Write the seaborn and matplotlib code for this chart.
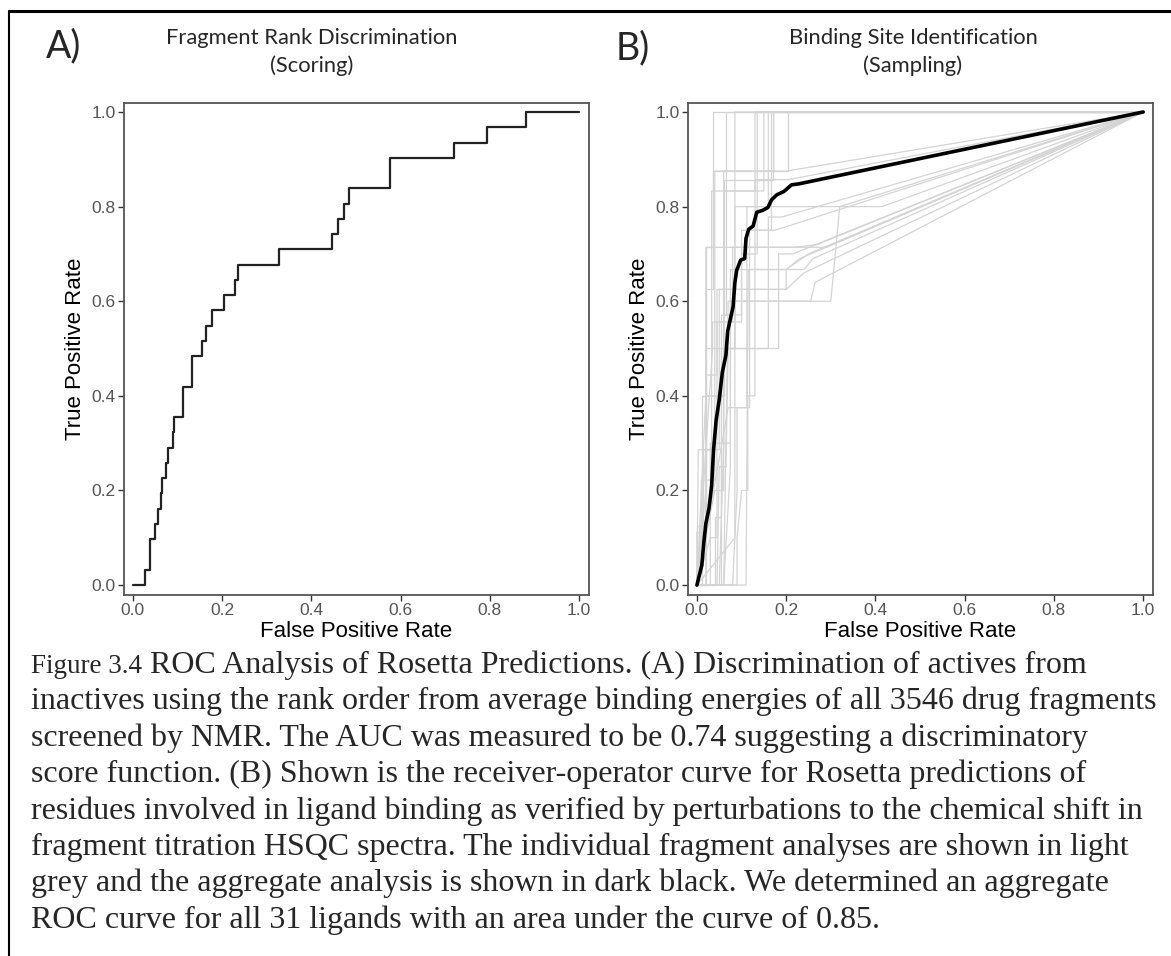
import matplotlib
matplotlib.use("Agg")
import matplotlib.pyplot as plt
import seaborn as sns
import pandas as pd
from matplotlib.lines import Line2D

# ---------------- data ----------------
# Panel A: fragment rank ROC (step vertices, steps-post)
fpr_a = [0.0, 0.026, 0.039, 0.049, 0.056, 0.062, 0.066, 0.075, 0.079, 0.089, 0.093,
         0.112, 0.133, 0.155, 0.163, 0.177, 0.203, 0.228, 0.236, 0.327, 0.446, 0.459,
         0.472, 0.485, 0.577, 0.719, 0.794, 0.881, 1.0]
tpr_a = [0.0, 0.032, 0.097, 0.129, 0.161, 0.194, 0.226, 0.258, 0.290, 0.323, 0.355,
         0.419, 0.484, 0.516, 0.548, 0.581, 0.613, 0.645, 0.677, 0.710, 0.742, 0.774,
         0.806, 0.839, 0.903, 0.935, 0.968, 1.0, 1.0]

# Panel B: aggregate ROC (black)
fpr_agg = [0.0, 0.011, 0.015, 0.020, 0.027, 0.033, 0.037, 0.043, 0.050, 0.057, 0.065,
           0.069, 0.076, 0.081, 0.085, 0.089, 0.098, 0.107, 0.110, 0.116, 0.126, 0.134,
           0.147, 0.159, 0.167, 0.179, 0.195, 0.212, 0.228, 1.0]
tpr_agg = [0.0, 0.042, 0.086, 0.130, 0.162, 0.210, 0.283, 0.348, 0.392, 0.450, 0.486,
           0.537, 0.567, 0.588, 0.639, 0.665, 0.687, 0.690, 0.733, 0.752, 0.759, 0.788,
           0.792, 0.798, 0.814, 0.825, 0.832, 0.846, 0.848, 1.0]

# Panel B: individual fragment ROCs (light grey)
grey_fpr = [
    [0, 0.02, 0.02, 0.035, 0.035, 1],
    [0, 0, 0.02, 0.02, 0.035, 0.035, 0.205, 0.205, 1],
    [0, 0.003, 0.033, 0.033, 0.13, 0.13, 1],
    [0, 0.04, 0.04, 0.053, 0.053, 0.065, 0.065, 1],
    [0, 0.045, 0.05, 0.065, 0.07, 0.085, 0.085, 1],
    [0, 0.06, 0.07, 0.30, 0.32, 1],
    [0, 0.09, 0.09, 0.10, 0.114, 0.114, 0.13, 0.13, 0.205, 1],
    [0, 0.07, 0.118, 0.118, 0.175, 1],
    [0, 0.02, 0.02, 0.183, 0.183, 0.215, 1],
    [0, 0.02, 0.02, 0.29, 1],
    [0, 0.085, 0.085, 0.415, 1],
    [0, 0.11, 0.115, 0.20, 0.25, 1],
    [0, 0.04, 0.06, 0.06, 0.15, 0.15, 1],
    [0, 0.035, 0.035, 0.10, 0.10, 0.167, 0.167, 1],
    [0, 0.02, 0.06, 0.06, 0.172, 0.172, 1],
    [0, 0.01, 0.01, 0.04, 0.04, 0.20, 1],
    [0, 0.03, 0.03, 0.075, 0.075, 0.24, 0.26, 1],
    [0, 0.055, 0.055, 0.16, 0.16, 0.19, 1],
    [0, 0.015, 0.015, 0.05, 0.05, 0.20, 0.24, 1],
    [0, 0.0, 0.02, 0.02, 0.045, 0.045, 0.20, 0.20, 0.23, 1],
    [0, 0.05, 0.06, 0.06, 0.10, 0.10, 0.135, 0.135, 1],
    [0, 0.08, 0.09, 0.09, 0.112, 0.112, 0.16, 0.16, 1],
    [0, 0.03, 0.045, 0.045, 0.08, 0.08, 0.22, 0.27, 1],
    [0, 0.06, 0.075, 0.075, 0.085, 0.085, 0.255, 0.265, 1],
    [0, 0.012, 0.012, 0.06, 0.06, 0.17, 0.17, 1],
]
grey_tpr = [
    [0, 0, 0.714, 0.714, 1, 1],
    [0, 0.125, 0.125, 0.625, 0.625, 0.875, 0.875, 1, 1],
    [0, 0.286, 0.286, 0.833, 0.833, 1, 1],
    [0, 0, 0.143, 0.143, 0.571, 0.571, 1, 1],
    [0, 0, 0.25, 0.25, 0.5, 0.5, 1, 1],
    [0, 0, 0.6, 0.6, 0.8, 1],
    [0, 0, 0.1, 0.2, 0.2, 0.4, 0.4, 0.857, 0.857, 1],
    [0, 0.375, 0.375, 0.75, 0.75, 1],
    [0, 0, 0.5, 0.5, 0.70, 0.70, 1],
    [0, 0.2, 0.714, 0.714, 1],
    [0, 0.1, 0.8, 0.8, 1],
    [0, 0, 0.667, 0.667, 0.70, 1],
    [0, 0.2, 0.2, 0.833, 0.833, 1, 1],
    [0, 0.5, 0.556, 0.556, 0.75, 0.75, 1, 1],
    [0, 0.4, 0.4, 0.875, 0.875, 1, 1],
    [0, 0.111, 0.222, 0.222, 0.875, 0.875, 1],
    [0, 0, 0.3, 0.3, 0.667, 0.667, 0.69, 1],
    [0, 0, 0.5, 0.5, 0.778, 0.778, 1],
    [0, 0.143, 0.286, 0.286, 0.625, 0.625, 0.66, 1],
    [0, 0.111, 0.111, 0.444, 0.444, 0.625, 0.625, 0.667, 0.69, 1],
    [0, 0, 0.3, 0.571, 0.571, 0.70, 0.70, 1.0, 1],
    [0, 0, 0.2, 0.375, 0.375, 0.80, 0.80, 1.0, 1],
    [0, 0.1, 0.1, 0.556, 0.556, 0.714, 0.714, 0.72, 1],
    [0, 0, 0.25, 0.5, 0.5, 0.6, 0.6, 0.64, 1],
    [0, 0, 0.4, 0.4, 0.857, 0.857, 1, 1],
]

tick_vals = [0.0, 0.2, 0.4, 0.6, 0.8, 1.0]
tick_labels = ["0.0", "0.2", "0.4", "0.6", "0.8", "1.0"]

title_a = ["Fragment Rank Discrimination", "(Scoring)"]
title_b = ["Binding Site Identification", "(Sampling)"]
xlabel = "False Positive Rate"
ylabel = "True Positive Rate"

caption_head = "Figure 3.4"
caption_lines = [
    " ROC Analysis of Rosetta Predictions. (A) Discrimination of actives from",
    "inactives using the rank order from average binding energies of all 3546 drug fragments",
    "screened by NMR. The AUC was measured to be 0.74 suggesting a discriminatory",
    "score function. (B) Shown is the receiver-operator curve for Rosetta predictions of",
    "residues involved in ligand binding as verified by perturbations to the chemical shift in",
    "fragment titration HSQC spectra. The individual fragment analyses are shown in light",
    "grey and the aggregate analysis is shown in dark black. We determined an aggregate",
    "ROC curve for all 31 ligands with an area under the curve of 0.85.",
]

# ---------------- figure ----------------
sns.set_theme(style="white")
plt.rcParams["font.family"] = ["Liberation Sans", "DejaVu Sans"]

W, H = 1171, 956
fig = plt.figure(figsize=(W / 100, H / 100), dpi=100)
fig.patch.set_facecolor("white")

def fx(px):
    return px / W

def fy(py):
    return 1 - py / H

ax_a = fig.add_axes([fx(124), fy(595), fx(589) - fx(124), fy(103) - fy(595)])
ax_b = fig.add_axes([fx(688), fy(595), fx(1153) - fx(688), fy(103) - fy(595)])

df_a = pd.DataFrame({"fpr": fpr_a, "tpr": tpr_a})
sns.lineplot(data=df_a, x="fpr", y="tpr", ax=ax_a, sort=False, estimator=None,
             color="#222222", linewidth=1.6, drawstyle="steps-post")

rows = []
for i, (xs, ys) in enumerate(zip(grey_fpr, grey_tpr)):
    for x, y in zip(xs, ys):
        rows.append({"curve": i, "fpr": x, "tpr": y})
df_g = pd.DataFrame(rows)
sns.lineplot(data=df_g, x="fpr", y="tpr", units="curve", estimator=None, sort=False,
             ax=ax_b, color="#d4d4d4", linewidth=0.9)
df_agg = pd.DataFrame({"fpr": fpr_agg, "tpr": tpr_agg})
sns.lineplot(data=df_agg, x="fpr", y="tpr", ax=ax_b, sort=False, estimator=None,
             color="black", linewidth=2.6)

for ax in (ax_a, ax_b):
    ax.set_xlim(-0.02, 1.022)
    ax.set_ylim(-0.021, 1.019)
    ax.set_xticks(tick_vals)
    ax.set_xticklabels(tick_labels)
    ax.set_yticks(tick_vals)
    ax.set_yticklabels(tick_labels)
    ax.tick_params(axis="both", which="both", length=4, width=1, color="#333333",
                   labelcolor="#555555", labelsize=12.5, direction="out",
                   bottom=True, left=True, pad=2)
    for sp in ax.spines.values():
        sp.set_color("#555555")
        sp.set_linewidth(1.3)
    ax.set_xlabel(xlabel, fontsize=16, color="black", labelpad=2)
    ax.set_ylabel(ylabel, fontsize=16, color="black", labelpad=4)
    ax.grid(False)
    ax.set_facecolor("white")

# panel titles & letters
tfont = ["Lato", "DejaVu Sans"]
tsize = 15.8
fig.text(fx(312), fy(38), title_a[0], ha="center", va="center", fontsize=tsize, family=tfont)
fig.text(fx(312), fy(66), title_a[1], ha="center", va="center", fontsize=tsize, family=tfont)
fig.text(fx(913), fy(38), title_b[0], ha="center", va="center", fontsize=tsize, family=tfont)
fig.text(fx(913), fy(66), title_b[1], ha="center", va="center", fontsize=tsize, family=tfont)
fig.text(fx(46), fy(46), "A)", ha="left", va="center", fontsize=27, family=tfont)
fig.text(fx(616), fy(48), "B)", ha="left", va="center", fontsize=27, family=tfont)

# caption
cfont = ["Liberation Serif", "DejaVu Serif"]
cap_size = 23
base0 = 673
step = 36.4
head = fig.text(fx(31), fy(base0), caption_head, ha="left", va="baseline",
                fontsize=19.5, family=cfont)
fig.canvas.draw()
r = fig.canvas.get_renderer()
bb = head.get_window_extent(renderer=r)
fig.text(bb.x1 / W, fy(base0), caption_lines[0], ha="left", va="baseline",
         fontsize=cap_size, family=cfont)
for i, line in enumerate(caption_lines[1:], start=1):
    fig.text(fx(31), fy(base0 + i * step), line, ha="left", va="baseline",
             fontsize=cap_size, family=cfont)

# frame border
fig.add_artist(Line2D([fx(9), 1.0], [fy(11), fy(11)], color="black", linewidth=2.2))
fig.add_artist(Line2D([fx(9), fx(9)], [fy(11), 0.0], color="black", linewidth=1.5))

fig.savefig("out.png", dpi=100, facecolor="white")
